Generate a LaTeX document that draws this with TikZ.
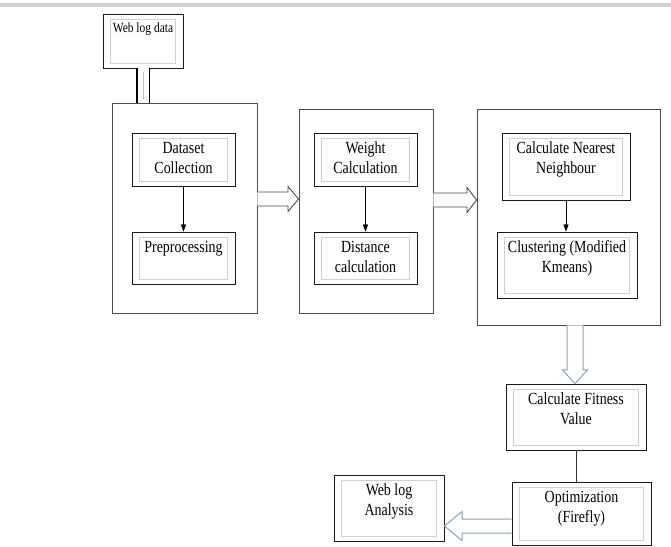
\documentclass[tikz,border=0pt]{standalone}
\usepackage{fontspec}
\setmainfont{Liberation Serif}[FakeStretch=0.82]
\usepackage{xcolor}
\usepackage{tikz}
\usetikzlibrary{positioning,arrows.meta}

\definecolor{bluegray}{HTML}{8CA2BE}
\newcommand{\boxtext}[3]{\parbox[c][#1][t]{#2}{\centering #3}}

\begin{document}
\begin{tikzpicture}[x=1pt, y=1pt, every node/.style={font=\fontsize{17}{20}\selectfont},
  container/.style={draw=black!70, line width=0.8pt, inner sep=0pt},
  stepbox/.style={draw=black!90, line width=0.9pt, inner xsep=4pt, inner ysep=9pt,
    path picture={\draw[black!18, line width=0.8pt]
      ([shift={(7.5pt,-5pt)}]path picture bounding box.north west) rectangle
      ([shift={(-7.5pt,5pt)}]path picture bounding box.south east);}},
  hollow/.style={draw=black!70, line width=0.9pt, fill=white},
  bluehollow/.style={draw=bluegray, line width=1pt, fill=white}]
  \useasboundingbox (0,0) rectangle (671,546);
  \fill[black!18] (0,539) rectangle (671,543);

  % Cajas exteriores
  \node[container, minimum width=145pt, minimum height=210pt] (c1) at (184.5,338) {};
  \node[container, minimum width=134pt, minimum height=204pt] (c2) at (366,335) {};
  \node[container, minimum width=183pt, minimum height=216pt] (c3) at (568.5,329) {};

  % Pasos
  \node[stepbox, font=\fontsize{14}{17}\selectfont] (web) at (143,505) {\boxtext{36pt}{72pt}{Web log data}};
  \node[stepbox] (dc) at (183.5,386.5) {\boxtext{35pt}{95pt}{Dataset\\Collection}};
  \node[stepbox] (pre) at (183.5,288) {\boxtext{34pt}{95pt}{Preprocessing}};
  \node[stepbox] (wc) at (365.5,386.5) {\boxtext{35pt}{95pt}{Weight\\Calculation}};
  \node[stepbox] (dist) at (365.5,288) {\boxtext{34pt}{95pt}{Distance\\calculation}};
  \node[stepbox] (nn) at (566,379.5) {\boxtext{49pt}{120pt}{Calculate Nearest\\Neighbour}};
  \node[stepbox] (clu) at (567,281) {\boxtext{48pt}{132pt}{Clustering (Modified\\Kmeans)}};
  \node[stepbox] (fit) at (576,129) {\boxtext{48pt}{132pt}{Calculate Fitness\\Value}};
  \node[stepbox] (opt) at (581.5,32.5) {\boxtext{45pt}{131pt}{Optimization\\(Firefly)}};
  \node[stepbox] (wla) at (389,38) {\boxtext{48pt}{102pt}{Web log\\Analysis}};

  % Flechas
  \draw[black, line width=1.1pt, double=white, double distance=11pt] (web.south) -- (web.south|-c1.north);
  \draw[black!25, line width=0.8pt] ([yshift=-4pt]web.south) -- ([yshift=4pt]web.south|-c1.north);
  \draw[-{Triangle[length=7pt,width=5pt]}] (dc) -- (pre);
  \draw[-{Triangle[length=7pt,width=5pt]}] (wc) -- (dist);
  \draw[-{Triangle[length=7pt,width=5pt]}] (nn.south) -- (nn.south|-clu.north);
  \draw[black!80] (fit.south) -- (opt.north-|fit.south);

  \draw[hollow] (c1.east|-0,354) -- (288,354) -- (288,359.5) -- (c2.west|-0,347)
    -- (288,334.5) -- (288,340) -- (c1.east|-0,340);
  \draw[hollow] (c2.east|-0,353) -- (467,353) -- (467,358.5) -- (c3.west|-0,346)
    -- (467,333.5) -- (467,339) -- (c2.east|-0,339);
  \draw[bluehollow] (c3.south-|567,0) -- (567,176) -- (562.5,176) -- (fit.north-|575,0)
    -- (587.5,176) -- (583,176) -- (c3.south-|583,0);
  \draw[bluehollow] (opt.west|-0,27) -- (462,27) -- (462,34.5) -- (wla.east|-0,20)
    -- (462,5.5) -- (462,13) -- (opt.west|-0,13);

\end{tikzpicture}
\end{document}
